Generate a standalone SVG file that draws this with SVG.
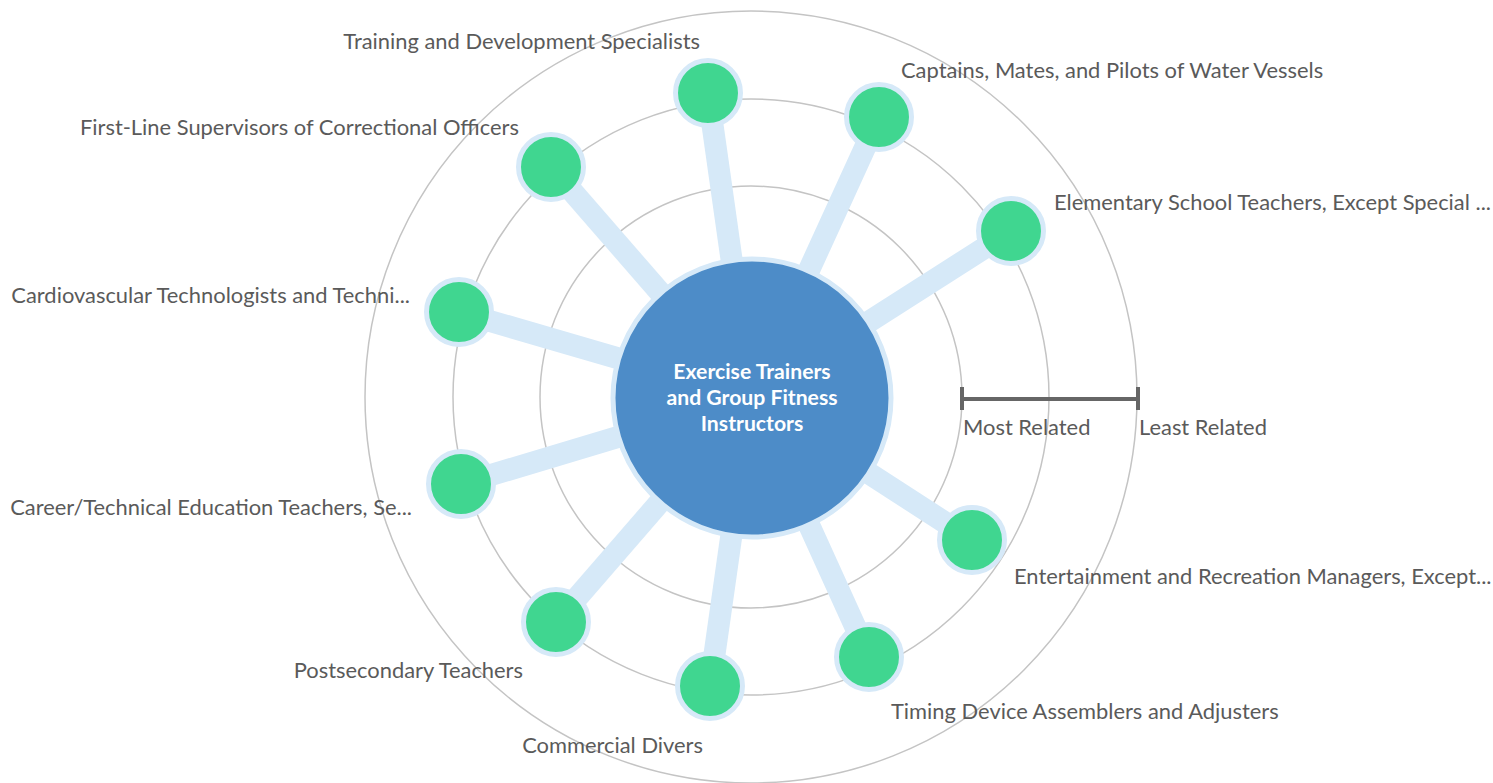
<svg xmlns="http://www.w3.org/2000/svg" width="1493" height="783" viewBox="0 0 1493 783">
<style>
.ring{fill:none;stroke:#c4c4c4;stroke-width:1.5}
.spoke{stroke:#d6e9f8;stroke-width:22;stroke-linecap:butt}
.node{fill:#40d690;stroke:#d6e9f8;stroke-width:5}
.lbl{font-family:Lato,"Open Sans","Liberation Sans",sans-serif;font-size:21.9px;fill:#5a5a5a}
.ctr{font-family:Lato,"Open Sans","Liberation Sans",sans-serif;font-size:21.2px;font-weight:bold;fill:#ffffff;text-anchor:middle}
.scale{stroke:#666666;stroke-width:4;fill:none}
</style>
<rect width="1493" height="783" fill="#ffffff"/>
<g id="rings">
<circle class="ring" cx="751" cy="397" r="211"/>
<circle class="ring" cx="751" cy="397" r="298"/>
<circle class="ring" cx="751" cy="397" r="386"/>
</g>
<g id="connectors">
<line class="spoke" x1="751" y1="397" x2="708" y2="93"/>
<line class="spoke" x1="751" y1="397" x2="879" y2="117"/>
<line class="spoke" x1="751" y1="397" x2="1011" y2="231"/>
<line class="spoke" x1="751" y1="397" x2="551" y2="167"/>
<line class="spoke" x1="751" y1="397" x2="459" y2="312"/>
<line class="spoke" x1="751" y1="397" x2="461" y2="484"/>
<line class="spoke" x1="751" y1="397" x2="556" y2="622"/>
<line class="spoke" x1="751" y1="397" x2="710" y2="686"/>
<line class="spoke" x1="751" y1="397" x2="869" y2="657"/>
<line class="spoke" x1="751" y1="397" x2="972" y2="540"/>
</g>
<g id="center">
<circle cx="752" cy="398" r="139" fill="#4d8cc8" stroke="#d6e9f8" stroke-width="5"/>
<text class="ctr" x="752" y="379">Exercise Trainers</text>
<text class="ctr" x="752" y="405">and Group Fitness</text>
<text class="ctr" x="752" y="431">Instructors</text>
</g>
<g id="n1"><circle class="node" cx="708" cy="93" r="32.5"/><text class="lbl" x="700" y="49" text-anchor="end">Training and Development Specialists</text></g>
<g id="n2"><circle class="node" cx="879" cy="117" r="32.5"/><text class="lbl" x="901" y="78">Captains, Mates, and Pilots of Water Vessels</text></g>
<g id="n3"><circle class="node" cx="1011" cy="231" r="32.5"/><text class="lbl" x="1054" y="210">Elementary School Teachers, Except Special ...</text></g>
<g id="n4"><circle class="node" cx="551" cy="167" r="32.5"/><text class="lbl" x="519" y="135" text-anchor="end">First-Line Supervisors of Correctional Officers</text></g>
<g id="n5"><circle class="node" cx="459" cy="312" r="32.5"/><text class="lbl" x="410" y="303" text-anchor="end">Cardiovascular Technologists and Techni...</text></g>
<g id="n6"><circle class="node" cx="461" cy="484" r="32.5"/><text class="lbl" x="412" y="515" text-anchor="end">Career/Technical Education Teachers, Se...</text></g>
<g id="n7"><circle class="node" cx="556" cy="622" r="32.5"/><text class="lbl" x="523" y="678" text-anchor="end">Postsecondary Teachers</text></g>
<g id="n8"><circle class="node" cx="710" cy="686" r="32.5"/><text class="lbl" x="703" y="753" text-anchor="end">Commercial Divers</text></g>
<g id="n9"><circle class="node" cx="869" cy="657" r="32.5"/><text class="lbl" x="891" y="719">Timing Device Assemblers and Adjusters</text></g>
<g id="n10"><circle class="node" cx="972" cy="540" r="32.5"/><text class="lbl" x="1014" y="584">Entertainment and Recreation Managers, Except...</text></g>
<g id="scale">
<line class="scale" x1="962" y1="399" x2="1138" y2="399"/>
<line class="scale" x1="962" y1="387" x2="962" y2="410"/>
<line class="scale" x1="1138" y1="387" x2="1138" y2="410"/>
<text class="lbl" x="963" y="435">Most Related</text>
<text class="lbl" x="1139" y="435">Least Related</text>
</g>
</svg>
